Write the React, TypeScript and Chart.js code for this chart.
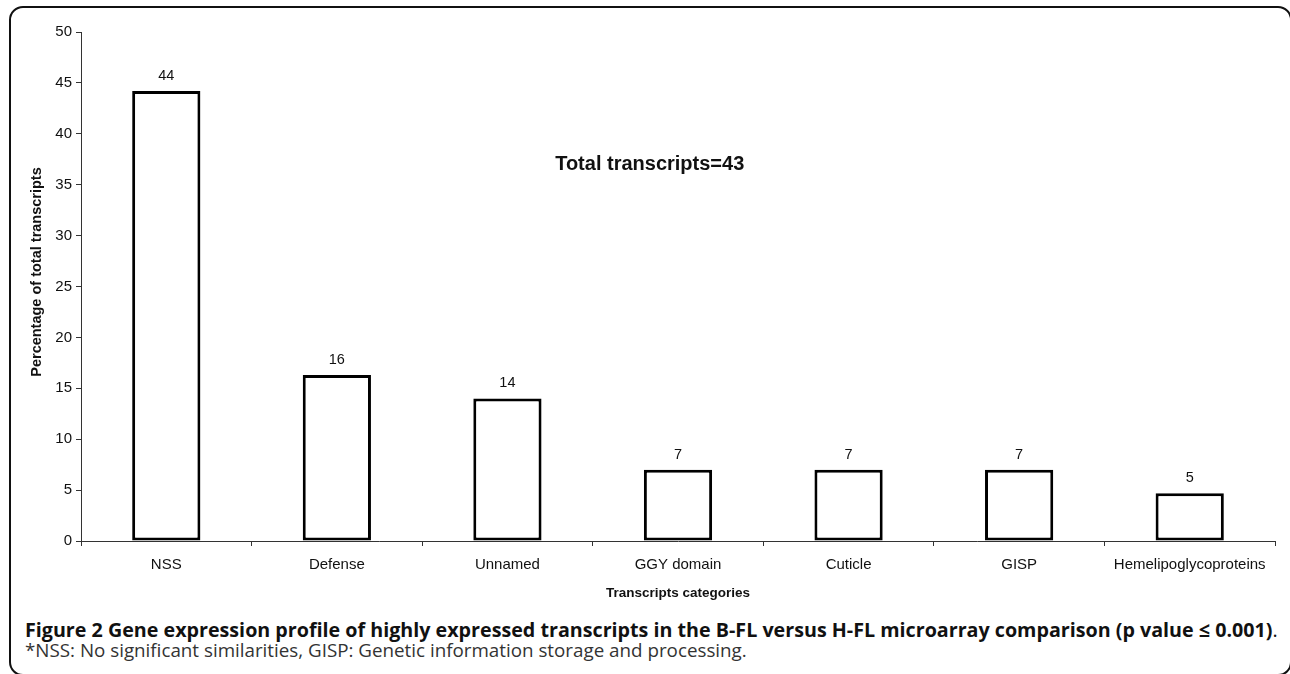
import React, { useEffect, useRef } from "react";
import { Chart, registerables } from "chart.js";

Chart.register(...registerables);

const categories = ["NSS", "Defense", "Unnamed", "GGY domain", "Cuticle", "GISP", "Hemelipoglycoproteins"];
const percentValues = [44.2, 16.3, 14.0, 7.0, 7.0, 7.0, 4.7];
const valueLabels = ["44", "16", "14", "7", "7", "7", "5"];
const yTitle = "Percentage of total transcripts";
const xTitle = "Transcripts categories";
const annotation = "Total transcripts=43";
const captionBold = "Figure 2 Gene expression profile of highly expressed transcripts in the B-FL versus H-FL microarray comparison (p value \u2264 0.001)";
const captionNote = "*NSS: No significant similarities, GISP: Genetic information storage and processing.";

const FONT = "'Liberation Sans', Arial, sans-serif";

export default function App() {
  const ref = useRef<HTMLCanvasElement | null>(null);

  useEffect(() => {
    if (!ref.current) return;
    const extras = {
      id: "extras",
      afterDatasetsDraw(chart: any) {
        const ctx = chart.ctx;
        const meta = chart.getDatasetMeta(0);
        ctx.save();
        ctx.fillStyle = "#111";
        ctx.font = `14.5px ${FONT}`;
        ctx.textAlign = "center";
        ctx.textBaseline = "middle";
        meta.data.forEach((bar: any, i: number) => {
          ctx.fillText(valueLabels[i], bar.x, bar.y - 15);
        });
        ctx.font = `bold 20px ${FONT}`;
        const xs = chart.scales.x;
        const ys = chart.scales.y;
        ctx.fillText(annotation, (xs.getPixelForValue(3) + xs.getPixelForValue(2)) / 2 + 57, ys.getPixelForValue(37.0));
        ctx.font = `bold 14.5px ${FONT}`;
        ctx.translate(37, 272);
        ctx.rotate(-Math.PI / 2);
        ctx.fillText(yTitle, 0, 0);
        ctx.restore();
      },
    };
    const chart = new Chart(ref.current, {
      type: "bar",
      data: {
        labels: categories,
        datasets: [
          {
            data: percentValues,
            backgroundColor: "#ffffff",
            borderColor: "#000000",
            borderWidth: 3,
            borderSkipped: false,
            categoryPercentage: 1,
            barPercentage: 0.4,
          },
        ],
      },
      options: {
        animation: false,
        responsive: false,
        maintainAspectRatio: false,
        layout: { padding: { left: 28, right: 15, top: 32, bottom: 9 } },
        plugins: { legend: { display: false }, tooltip: { enabled: false }, title: { display: false } },
        scales: {
          x: {
            type: "category",
            offset: true,
            grid: { display: true, drawOnChartArea: false, drawTicks: true, tickLength: 5, offset: true, color: "#333" },
            border: { display: true, color: "#333", width: 1 },
            ticks: { color: "#111", font: { size: 15, family: FONT }, padding: 10, maxRotation: 0, autoSkip: false },
            title: { display: true, text: xTitle, color: "#111", font: { size: 13.5, weight: "bold", family: FONT }, padding: 0 },
            afterFit: (s: any) => { s.height = 60; },
          },
          y: {
            min: 0,
            max: 50,
            ticks: { stepSize: 5, color: "#111", font: { size: 15, family: FONT }, padding: 4 },
            grid: { display: true, drawOnChartArea: false, drawTicks: true, tickLength: 5, color: "#333" },
            border: { display: true, color: "#333", width: 1 },
            afterFit: (s: any) => { s.width = 53; },
          },
        },
      },
      plugins: [extras],
    });
    return () => chart.destroy();
  }, []);

  return (
    <div style={{ position: "absolute", left: 0, top: 0, width: 1290, height: 674, overflow: "hidden", background: "#fff" }}>
      <div
        style={{
          position: "absolute",
          left: 9,
          top: 6,
          width: 1283,
          height: 670,
          boxSizing: "border-box",
          border: "2px solid #111",
          borderRadius: 14,
        }}
      />
      <canvas ref={ref} width={1290} height={610} style={{ position: "absolute", left: 0, top: 0, width: 1290, height: 610 }} />
      <div
        style={{
          position: "absolute",
          left: 25,
          top: 619,
          fontFamily: "'Open Sans', 'Noto Sans', sans-serif",
          whiteSpace: "nowrap",
          lineHeight: "21px",
        }}
      >
        <div style={{ fontWeight: 700, fontSize: 19.7, color: "#111" }}>
          {captionBold}
          <span style={{ fontWeight: 400 }}>.</span>
        </div>
        <div style={{ fontSize: 18.8, color: "#333" }}>{captionNote}</div>
      </div>
    </div>
  );
}
